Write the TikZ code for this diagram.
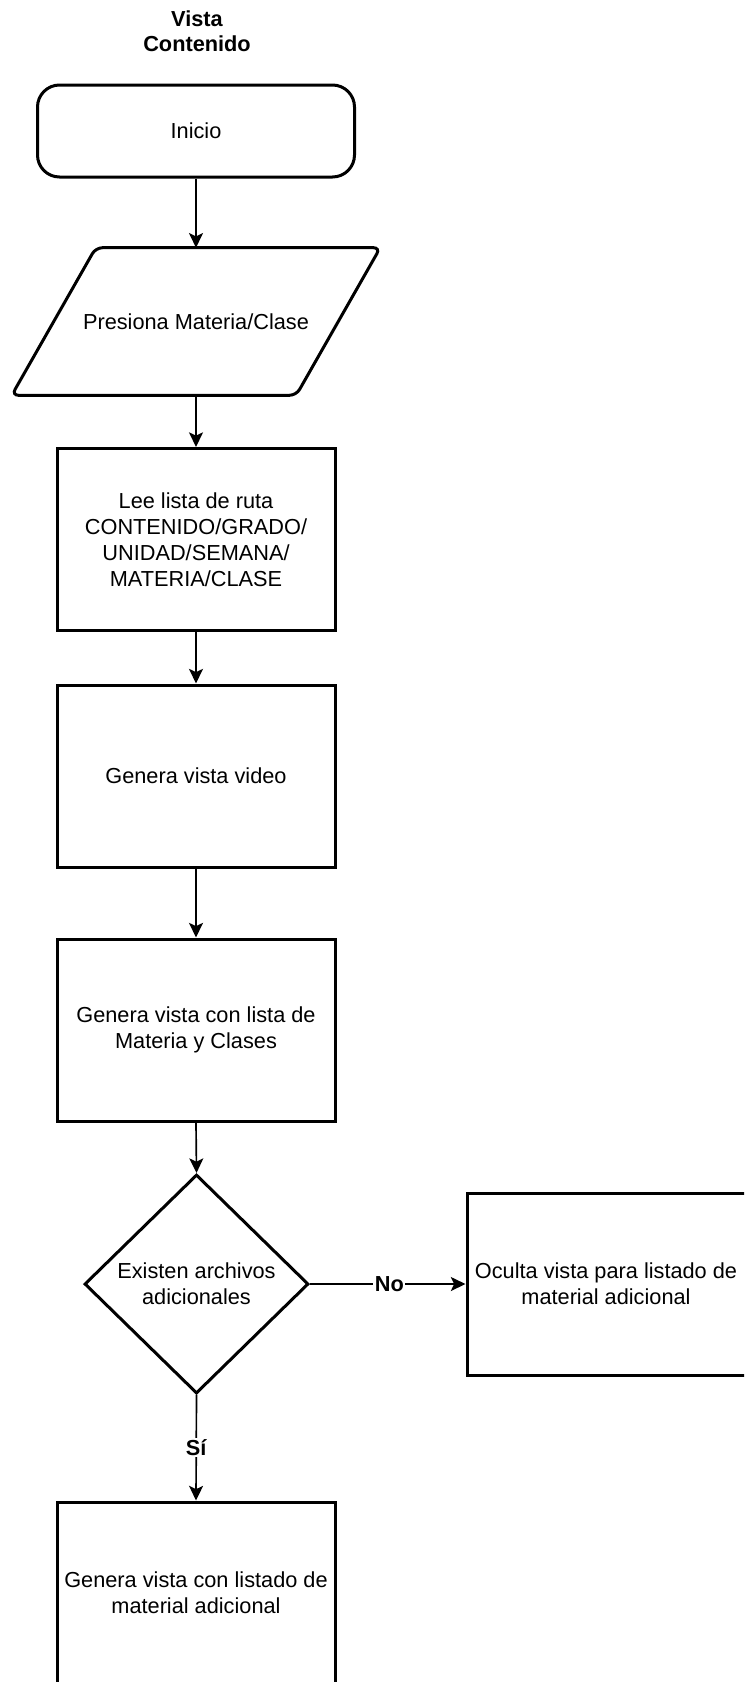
\documentclass[tikz,border=0pt]{standalone}
\usepackage{fontspec}
\setmainfont{Liberation Sans}
\usetikzlibrary{arrows.meta,shapes.geometric,calc}
\begin{document}
\begin{tikzpicture}[x=0.75pt,y=-0.75pt,
  every node/.style={font=\fontsize{16.3pt}{19.5pt}\selectfont, align=center, inner sep=0pt},
  procbox/.style={draw, line width=2.25pt, minimum width=208.5pt, minimum height=136.5pt},
  startbox/.style={draw, line width=2.25pt, rounded corners=16.5pt, minimum width=237.75pt, minimum height=69pt},
  iobox/.style={minimum width=276pt, minimum height=110.25pt},
  decision/.style={draw, diamond, line width=2.25pt, minimum width=168pt, minimum height=164.25pt},
  flow/.style={line width=1.25pt, -{Stealth[length=11pt, width=10.5pt, inset=2.5pt]}},
  edgelabel/.style={fill=white, font=\bfseries\fontsize{16.3pt}{19.5pt}\selectfont, inner sep=1pt}
]
\clip (0,0) rectangle (744,1682);

% heading
\node[font=\bfseries\fontsize{16.3pt}{19pt}\selectfont] (title) at (197,31.5) {Vista\\Contenido};

% main column
\node[startbox] (inicio) at (196,131) {Inicio};
\node[iobox] (presiona) at (196,321.5) {Presiona Materia/Clase};
\draw[line width=2.25pt, rounded corners=5pt]
  ($(presiona.north west)+(84,0)$) -- (presiona.north east)
  -- ($(presiona.south east)-(84,0)$) -- (presiona.south west) -- cycle;
\node[procbox] (lee) at (196,539.5) {Lee lista de ruta\\CONTENIDO/GRADO/\\UNIDAD/SEMANA/\\MATERIA/CLASE};
\node[procbox] (video) at (196,776) {Genera vista video};
\node[procbox] (lista) at (196,1030) {Genera vista con lista de\\Materia y Clases};
\node[decision] (existen) at (196.5,1284) {Existen archivos\\adicionales};
\node[procbox, minimum width=211.5pt] (oculta) at (608,1284) {};
\node at (606,1284) (ocultatext) {Oculta vista para listado de\\material adicional};
\node[procbox] (listado) at (196,1593) {Genera vista con listado de\\material adicional};

% connectors
\draw[flow] (inicio.south) -- (presiona.north);
\draw[flow] (presiona.south) -- (lee.north);
\draw[flow] (lee.south) -- (video.north);
\draw[flow] (video.south) -- (lista.north);
\draw[flow] (lista.south) -- (existen.north);
\draw[flow] (existen.east) -- node[edgelabel, pos=0.51] {No} (oculta.west);
\draw[flow] (existen.south) -- node[edgelabel, pos=0.5] {Sí} (listado.north);
\end{tikzpicture}
\end{document}
